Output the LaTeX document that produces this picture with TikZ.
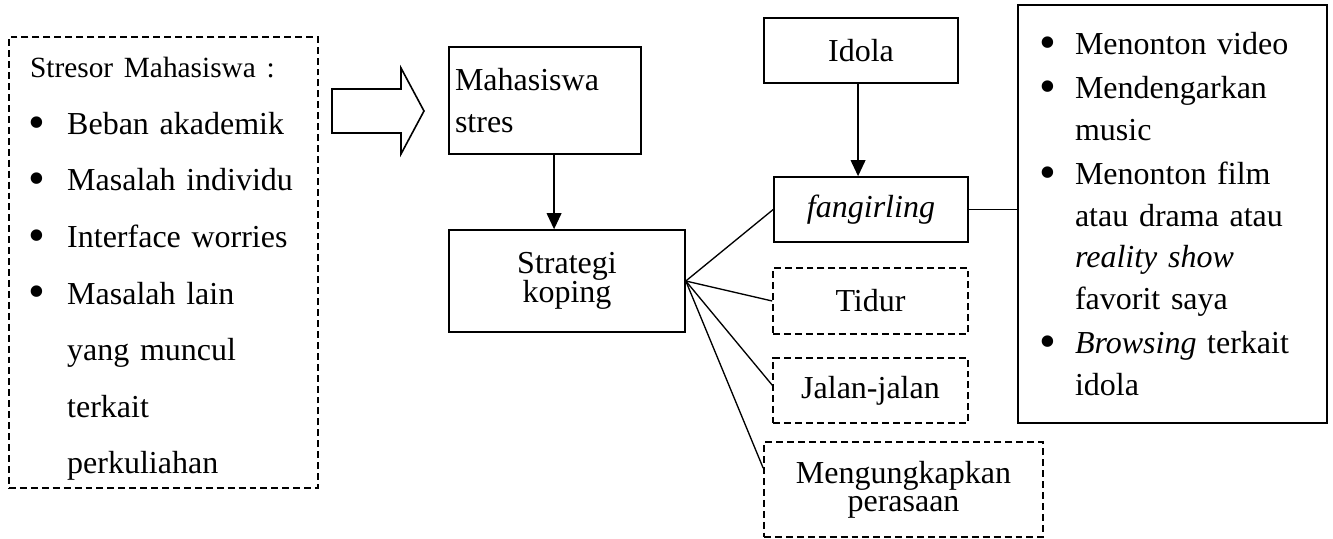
\documentclass[tikz,border=0pt]{standalone}
\usepackage{fontspec}
\setmainfont{Liberation Serif}
\usetikzlibrary{arrows.meta}
\newcommand\butir[1][13.9pt]{\makebox[#1][l]{\hspace*{-0.6pt}\raisebox{-1.4pt}{\scalebox{1.5}{\textbullet}}}}
\newcommand\sisip[1][13.9pt]{\hspace*{#1}}
\newcommand\rapat{\lineskiplimit=-20pt\relax}

\begin{document}
\begin{tikzpicture}[x=0.375pt,y=-0.375pt,
    kotak/.style={draw,line width=0.6pt,inner sep=0pt},
    kotakputus/.style={kotak,dash pattern=on 2.6pt off 1.5pt},
    panah/.style={line width=0.6pt,-{Triangle[length=6pt,width=5.5pt]}},
    garis/.style={line width=0.5pt}]
  \useasboundingbox (0,0) rectangle (1333,538);
  % Stresor
  \node[kotakputus, minimum width=115.9pt, minimum height=169.1pt, text width=100pt,
        align=left, font=\fontsize{12}{21.2}\selectfont] (stresor) at (163.5,262.5)
    {\rule{0pt}{12.5pt}{\fontsize{11}{21.2}\selectfont Stresor Mahasiswa :}\\
     \butir Beban akademik\\
     \butir Masalah individu\\
     \butir Interface worries\\
     \butir Masalah lain\\
     \sisip yang muncul\\
     \sisip terkait\\
     \sisip perkuliahan};
  % Panah blok
  \draw[line width=0.6pt] (332,89) -- (401,89) -- (401,68) -- (424,111) -- (401,154)
    -- (401,133) -- (332,133) -- cycle;
  % Mahasiswa stres dan strategi koping
  \node[kotak, minimum width=72pt, minimum height=40.1pt, text width=67.5pt,
        align=left, font=\fontsize{12}{15.75}\selectfont] (mhs) at (545,100.5)
    {Mahasiswa\\ stres};
  \node[kotak, minimum width=88.5pt, minimum height=38.25pt, align=center,
        font=\fontsize{12}{11}\selectfont\rapat] (koping) at (567,281)
    {Strategi\\ koping};
  \draw[panah] ([xshift=3.4pt]mhs.south) -- ([xshift=3.4pt]mhs.south |- koping.north);
  % Idola dan fangirling
  \node[kotak, minimum width=72.75pt, minimum height=24.4pt, font=\fontsize{12}{14}\selectfont]
    (idola) at (861,50.5) {Idola};
  \node[kotak, minimum width=72.75pt, minimum height=24.4pt, font=\fontsize{12}{14}\selectfont]
    (fangirl) at (871,209.5) {\textit{fangirling}};
  \draw[panah] ([xshift=-1.1pt]idola.south) -- ([xshift=-1.1pt]idola.south |- fangirl.north);
  % Koping lain
  \node[kotakputus, minimum width=73.1pt, minimum height=24.75pt, font=\fontsize{12}{14}\selectfont]
    (tidur) at (870.5,301) {Tidur};
  \node[kotakputus, minimum width=73.1pt, minimum height=24.4pt, font=\fontsize{12}{14}\selectfont]
    (jalan) at (870.5,390.5) {Jalan-jalan};
  \node[kotakputus, minimum width=104.6pt, minimum height=35.6pt, align=center,
        font=\fontsize{12}{10.5}\selectfont\rapat] (ungkap) at (903.5,489.5)
    {Mengungkapkan\\ perasaan};
  \draw[garis] (koping.east) -- (fangirl.west);
  \draw[garis] (koping.east) -- (tidur.west);
  \draw[garis] (koping.east) -- ([yshift=2pt]jalan.west);
  \draw[garis] (koping.east) -- ([yshift=8pt]ungkap.west);
  % Kegiatan fangirling
  \node[kotak, minimum width=115.9pt, minimum height=156.75pt, text width=98.6pt,
        align=left, font=\fontsize{12}{15.6}\selectfont] (kegiatan) at (1172.5,214)
    {\butir[12.75pt]Menonton video\\[1pt]
     \butir[12.75pt]Mendengarkan\\
     \sisip[12.75pt]music\\[1pt]
     \butir[12.75pt]Menonton film\\
     \sisip[12.75pt]atau drama atau\\
     \sisip[12.75pt]\textit{reality show}\\
     \sisip[12.75pt]favorit saya\\[1pt]
     \butir[12.75pt]\textit{Browsing} terkait\\
     \sisip[12.75pt]idola};
  \draw[garis] (fangirl.east) -- (fangirl.east -| kegiatan.west);
\end{tikzpicture}
\end{document}
